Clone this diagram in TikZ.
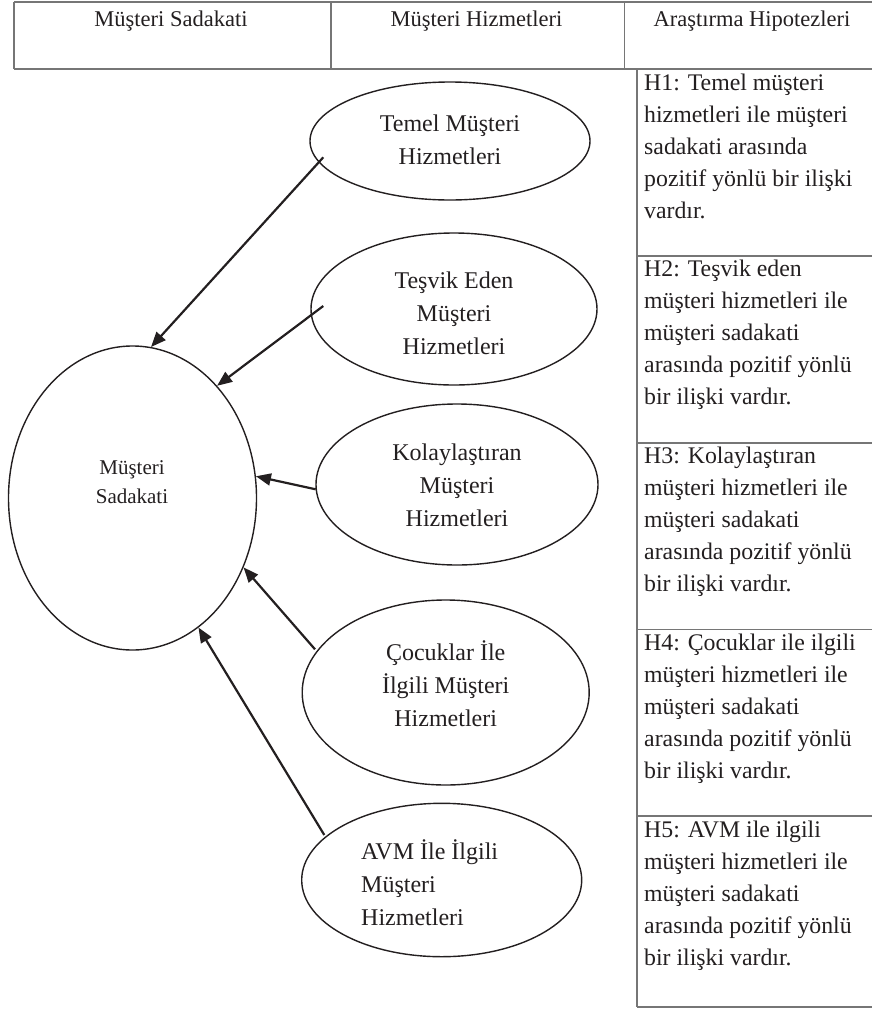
\documentclass[tikz,border=0pt]{standalone}
\usepackage{fontspec}
\setmainfont{Liberation Serif}
\usetikzlibrary{arrows.meta,shapes.geometric,calc}
\definecolor{tline}{RGB}{118,118,118}
\definecolor{ink}{RGB}{35,31,32}
\begin{document}
\begin{tikzpicture}[x=1pt,y=-1pt,
  ell/.style={draw=ink, line width=1.4pt, ellipse, inner sep=0pt},
  txt/.style={text=ink, font=\fontsize{24}{33}\selectfont, align=center, inner sep=0pt},
  mtxt/.style={text=ink, font=\fontsize{21}{28.5}\selectfont, align=center, inner sep=0pt},
  hyp/.style={text=ink, font=\fontsize{23.8}{32}\selectfont, align=left, anchor=north west, inner sep=0pt},
  hdr/.style={text=ink, font=\fontsize{22.5}{26}\selectfont, anchor=base, inner sep=0pt},
  tbl/.style={draw=tline, line width=1.6pt},
  arr/.style={draw=ink, line width=2.2pt, -{Triangle[length=15pt,width=12pt]}}
]
\useasboundingbox (0,0) rectangle (872,1010);

% header table
\draw[tbl] (14,2) -- (872,2);
\draw[tbl] (14,69) -- (872,69);
\draw[tbl] (14,2) -- (14,69);
\draw[tbl] (331,2) -- (331,69);
\draw[tbl] (624.5,2) -- (624.5,69);
\node[hdr] (h1) at (171,26) {Müşteri Sadakati};
\node[hdr] (h2) at (476.5,26) {Müşteri Hizmetleri};
\node[hdr] (h3) at (752,26) {Araştırma Hipotezleri};

% hypotheses column
\draw[tbl] (636.7,69) -- (636.7,1007);
\draw[tbl] (636.7,255.7) -- (872,255.7);
\draw[tbl] (636.7,442.7) -- (872,442.7);
\draw[tbl] (636.7,629.3) -- (872,629.3);
\draw[tbl] (636.7,816) -- (872,816);
\draw[tbl] (636.7,1007) -- (872,1007);

\node[hyp] (hy1) at (644,67.6) {\strut H1: Temel müşteri\\hizmetleri ile müşteri\\sadakati arasında\\pozitif yönlü bir ilişki\\vardır.};
\node[hyp] (hy2) at (644,254.3) {\strut H2: Teşvik eden\\müşteri hizmetleri ile\\müşteri sadakati\\arasında pozitif yönlü\\bir ilişki vardır.};
\node[hyp] (hy3) at (644,441.3) {\strut H3: Kolaylaştıran\\müşteri hizmetleri ile\\müşteri sadakati\\arasında pozitif yönlü\\bir ilişki vardır.};
\node[hyp] (hy4) at (644,627.9) {\strut H4: Çocuklar ile ilgili\\müşteri hizmetleri ile\\müşteri sadakati\\arasında pozitif yönlü\\bir ilişki vardır.};
\node[hyp] (hy5) at (644,814.6) {\strut H5: AVM ile ilgili\\müşteri hizmetleri ile\\müşteri sadakati\\arasında pozitif yönlü\\bir ilişki vardır.};

% ellipses
\node[ell, minimum width=248pt, minimum height=304pt] (ms) at (132.5,498) {};
\node[mtxt] (mstxt) at (132,482) {Müşteri\\Sadakati};

\node[ell, minimum width=280pt, minimum height=118pt] (temel) at (450,141) {};
\node[txt] (temeltxt) at (450,140) {Temel Müşteri\\Hizmetleri};

\node[ell, minimum width=286pt, minimum height=152pt] (tesvik) at (454,309) {};
\node[txt] (tesviktxt) at (454,313) {Teşvik Eden\\Müşteri\\Hizmetleri};

\node[ell, minimum width=282pt, minimum height=161pt] (kolay) at (457,484.5) {};
\node[txt] (kolaytxt) at (457,485) {Kolaylaştıran\\Müşteri\\Hizmetleri};

\node[ell, minimum width=287pt, minimum height=185pt] (cocuk) at (445.7,692.5) {};
\node[txt] (cocuktxt) at (445.7,684) {Çocuklar İle\\İlgili Müşteri\\Hizmetleri};

\node[ell, minimum width=280pt, minimum height=153.4pt] (avm) at (441.7,880) {};
\node[txt, align=left, anchor=west] (avmtxt) at (361,883) {AVM İle İlgili\\Müşteri\\Hizmetleri};

% arrow start points
\coordinate (s1) at ($(temel.center)+(-126.7,16.3)$);
\coordinate (s2) at ($(tesvik.center)+(-130.7,-3)$);
\coordinate (s3) at ($(kolay.center)+(-141.3,4.8)$);
\coordinate (s4) at ($(cocuk.center)+(-130.7,-43.2)$);
\coordinate (s5) at ($(avm.center)+(-117.4,-45)$);

\draw[arr] (s1) -- (ms.83.5);
\draw[arr] (s2) -- (ms.53.7);
\draw[arr] (s3) -- (ms.10);
\draw[arr] (s4) -- (ms.-32.4);
\draw[arr] (s5) -- (ms.-63.5);
\end{tikzpicture}
\end{document}
